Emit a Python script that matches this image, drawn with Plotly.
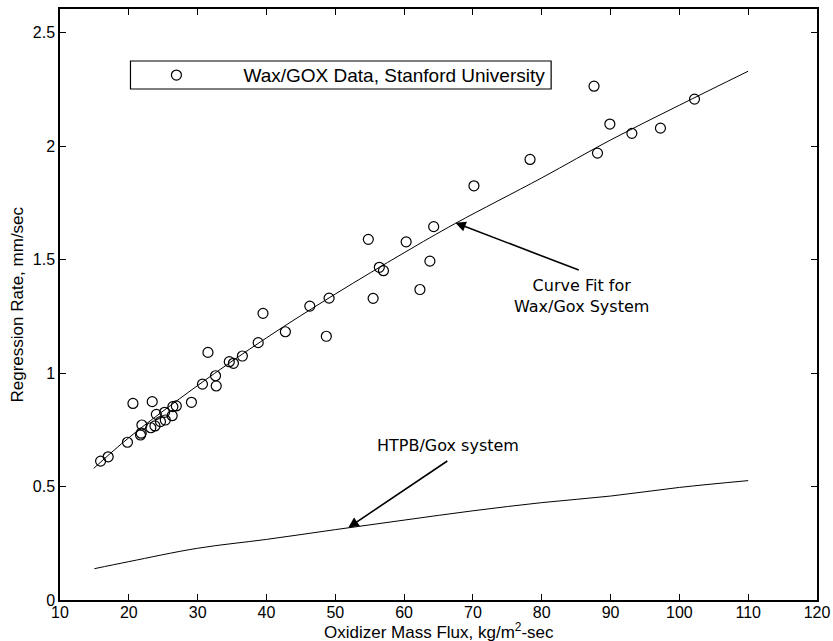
import plotly.graph_objects as go

# Wax/GOX data points (oxidizer mass flux, regression rate)
wax_flux = [15.9, 17.0, 19.8, 20.6, 23.4, 21.9, 21.7, 21.8, 23.2, 23.8, 24.0, 24.6, 25.2, 25.3,
            26.3, 26.4, 26.9, 29.1, 30.7, 31.5, 32.6, 32.7, 34.6, 35.2, 36.5, 38.8, 39.5,
            42.75, 46.3, 48.7, 49.1, 54.8, 55.5, 56.4, 57.0, 60.3, 62.3, 63.75, 64.3,
            70.15, 78.3, 87.6, 88.1, 89.9, 93.1, 97.25, 102.2]
wax_rate = [0.612, 0.631, 0.695, 0.866, 0.874, 0.771, 0.727, 0.735, 0.759, 0.767, 0.818, 0.786, 0.827, 0.793,
            0.812, 0.852, 0.855, 0.871, 0.951, 1.091, 0.988, 0.943, 1.050, 1.043, 1.075, 1.134, 1.263,
            1.182, 1.295, 1.162, 1.330, 1.589, 1.329, 1.466, 1.451, 1.578, 1.368, 1.493, 1.645,
            1.825, 1.941, 2.264, 1.969, 2.097, 2.056, 2.079, 2.207]

# Curve fit for Wax/GOX system
fit_flux = [14.9, 20, 30, 40, 50, 60, 67.5, 80, 90, 100, 110]
fit_rate = [0.580, 0.715, 0.945, 1.155, 1.348, 1.530, 1.660, 1.860, 2.027, 2.180, 2.330]

# HTPB/GOX system curve
htpb_flux = [15.0, 20, 30, 40, 50, 60, 70, 80, 90, 100, 110]
htpb_rate = [0.138, 0.169, 0.228, 0.267, 0.310, 0.352, 0.393, 0.429, 0.458, 0.496, 0.526]

x_ticks = [10, 20, 30, 40, 50, 60, 70, 80, 90, 100, 110, 120]
y_ticks = [0, 0.5, 1, 1.5, 2, 2.5]
y_tick_text = ["0", "0.5", "1", "1.5", "2", "2.5"]

fig = go.Figure()
fig.add_trace(go.Scatter(x=fit_flux, y=fit_rate, mode="lines", line=dict(color="black", width=1, shape="spline"),
                         showlegend=False, hoverinfo="skip"))
fig.add_trace(go.Scatter(x=htpb_flux, y=htpb_rate, mode="lines", line=dict(color="black", width=1, shape="spline"),
                         showlegend=False, hoverinfo="skip"))
fig.add_trace(go.Scatter(x=wax_flux, y=wax_rate, mode="markers",
                         name="Wax/GOX Data, Stanford University",
                         marker=dict(symbol="circle-open", size=10, color="black", line=dict(width=1.2, color="black"))))

ann_font = dict(family="DejaVu Sans", size=16, color="black")
fig.add_annotation(x=67.45, y=1.662, ax=85.6, ay=1.451, xref="x", yref="y", axref="x", ayref="y",
                   showarrow=True, arrowhead=2, arrowsize=1.3, arrowwidth=1.6, arrowcolor="black", text="")
fig.add_annotation(x=85.8, y=1.338, xref="x", yref="y", showarrow=False,
                   text="Curve Fit for<br>Wax/Gox System", font=ann_font, align="center")
fig.add_annotation(x=51.9, y=0.319, ax=66.5, ay=0.617, xref="x", yref="y", axref="x", ayref="y",
                   showarrow=True, arrowhead=2, arrowsize=1.3, arrowwidth=1.6, arrowcolor="black", text="")
fig.add_annotation(x=66.45, y=0.68, xref="x", yref="y", showarrow=False,
                   text="HTPB/Gox system", font=ann_font)

title_font = dict(family="Liberation Sans", size=17, color="black")
fig.add_annotation(x=0.5, y=0, xref="paper", yref="paper", yshift=-31, showarrow=False,
                   text="Oxidizer Mass Flux, kg/m<sup>2</sup>-sec", font=title_font, yanchor="middle")
fig.add_annotation(x=0, y=0.5, xref="paper", yref="paper", xshift=-43, showarrow=False,
                   text="Regression Rate, mm/sec", font=title_font, textangle=-90, xanchor="center")

# legend box
fig.add_shape(type="rect", xref="paper", yref="paper", x0=0.0931, x1=0.6488, y0=0.8646, y1=0.912,
              line=dict(color="black", width=1.2), fillcolor="white", layer="below")

tick_font = dict(family="Liberation Sans", size=16, color="black")
fig.update_layout(
    width=833, height=641,
    margin=dict(l=59.5, r=16, t=9, b=41, autoexpand=False),
    paper_bgcolor="white", plot_bgcolor="white",
    font=dict(family="Liberation Sans", color="black"),
    showlegend=True,
    legend=dict(x=0.0653, y=0.888, xanchor="left", yanchor="middle", bgcolor="rgba(0,0,0,0)",
                borderwidth=0, itemwidth=124,
                font=dict(family="Liberation Sans", size=19, color="black")),
    xaxis=dict(range=[10, 120], tickvals=x_ticks, ticks="inside", ticklen=6, tickcolor="black",
               showline=True, linecolor="black", linewidth=1.5, mirror="ticks", showgrid=False, zeroline=False,
               tickfont=tick_font, automargin=False, ticklabelstandoff=-3),
    yaxis=dict(range=[0, 2.604], tickvals=y_ticks, ticktext=y_tick_text, ticks="inside", ticklen=6, tickcolor="black",
               showline=True, linecolor="black", linewidth=1.5, mirror="ticks", showgrid=False, zeroline=False,
               tickfont=tick_font, automargin=False),
)

fig.write_html("out.html", config={"displayModeBar": False},
               post_script="document.body.style.margin='0';document.body.style.overflow='hidden';")
